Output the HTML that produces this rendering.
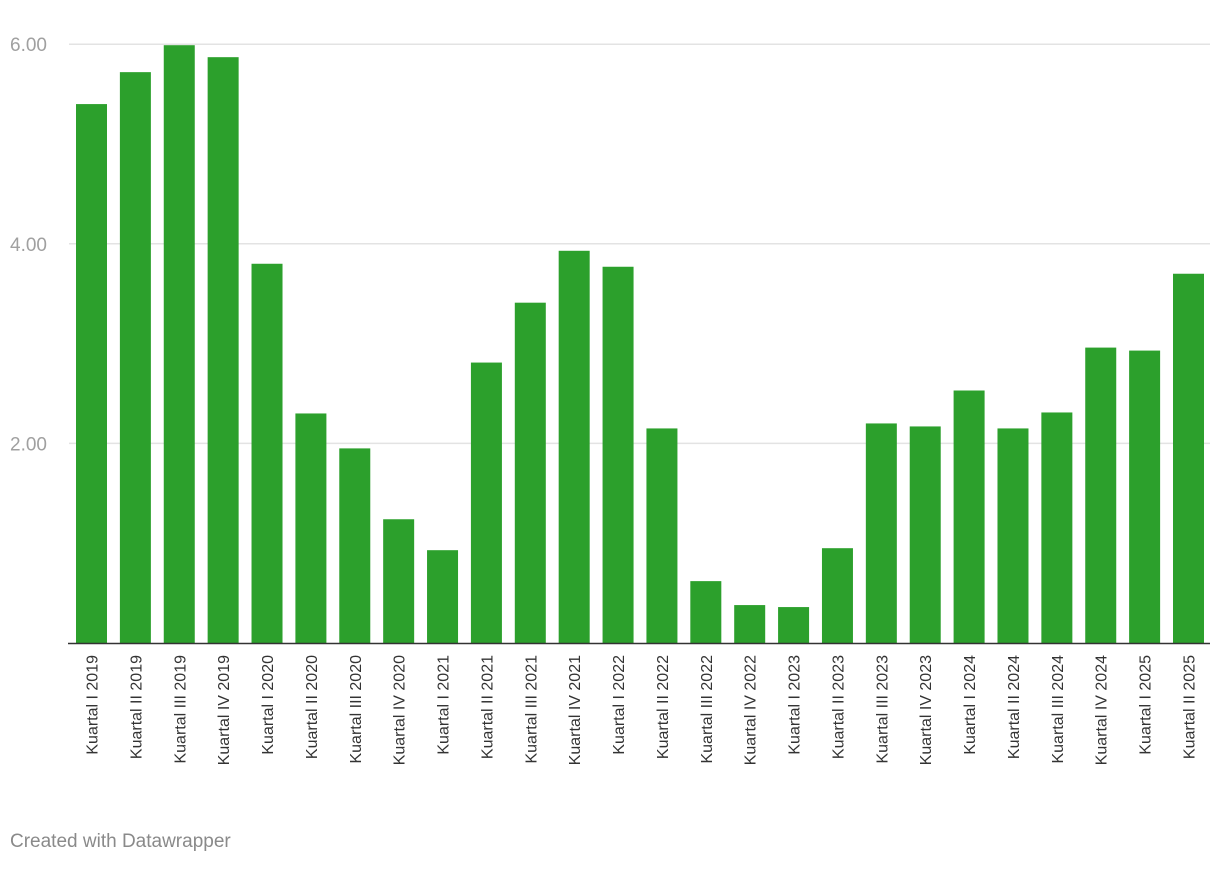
<!DOCTYPE html>
<html><head><meta charset="utf-8"><style>
body{margin:0;background:#fff;width:1220px;height:866px;overflow:hidden;font-family:"Liberation Sans",Arial,sans-serif}
</style></head><body>
<svg id="chart" width="1220" height="866" xmlns="http://www.w3.org/2000/svg">
<g id="grid"></g><g id="bars"></g><g id="xlabels"></g>
<line x1="68" x2="1210" y1="643.5" y2="643.5" stroke="#333" stroke-width="1.5"/>
<text x="10" y="847" font-size="19" fill="#8a8a8a">Created with Datawrapper</text>
</svg>
<script>
const categories=["Kuartal I 2019","Kuartal II 2019","Kuartal III 2019","Kuartal IV 2019","Kuartal I 2020","Kuartal II 2020","Kuartal III 2020","Kuartal IV 2020","Kuartal I 2021","Kuartal II 2021","Kuartal III 2021","Kuartal IV 2021","Kuartal I 2022","Kuartal II 2022","Kuartal III 2022","Kuartal IV 2022","Kuartal I 2023","Kuartal II 2023","Kuartal III 2023","Kuartal IV 2023","Kuartal I 2024","Kuartal II 2024","Kuartal III 2024","Kuartal IV 2024","Kuartal I 2025","Kuartal II 2025"];
const values=[5.40,5.72,5.99,5.87,3.80,2.30,1.95,1.24,0.93,2.81,3.41,3.93,3.77,2.15,0.62,0.38,0.36,0.95,2.20,2.17,2.53,2.15,2.31,2.96,2.93,3.70];
const ticks=[2,4,6];
const tickLabels=["2.00","4.00","6.00"];
const NS="http://www.w3.org/2000/svg";
const y0=643,pxPer=99.8;
function y(v){return y0-v*pxPer;}
const x0=76,step=(1173-76)/25,bw=31;
function x(i){return x0+i*step;}
const grid=document.getElementById('grid');
ticks.forEach((t,i)=>{
  const l=document.createElementNS(NS,'line');
  
  
  l.setAttribute('x1',69);l.setAttribute('x2',1210);
  l.setAttribute('y1',y(t));l.setAttribute('y2',y(t));
  l.setAttribute('stroke','#e3e3e3');l.setAttribute('stroke-width','1.5');
  grid.appendChild(l);
  const tx=document.createElementNS(NS,'text');
  
  
  tx.setAttribute('x',10);tx.setAttribute('y',y(t)+7);
  tx.setAttribute('font-size','19');tx.setAttribute('fill','#a0a0a0');
  tx.textContent=tickLabels[i];
  grid.appendChild(tx);
});
const bars=document.getElementById('bars'),xl=document.getElementById('xlabels');
values.forEach((v,i)=>{
  const r=document.createElementNS(NS,'rect');
  
  
  r.setAttribute('x',x(i));r.setAttribute('width',bw);
  r.setAttribute('y',y(v));r.setAttribute('height',y0-y(v));
  r.setAttribute('fill','#2ca02c');
  bars.appendChild(r);
  const t=document.createElementNS(NS,'text');
  
  
  const cx=x(i)+bw/2+6,cy=655;
  t.setAttribute('transform','translate('+cx+','+cy+') rotate(-90)');
  t.setAttribute('text-anchor','end');
  t.setAttribute('font-size','16');t.setAttribute('fill','#333');
  t.textContent=categories[i];
  xl.appendChild(t);
});
</script>
</body></html>
